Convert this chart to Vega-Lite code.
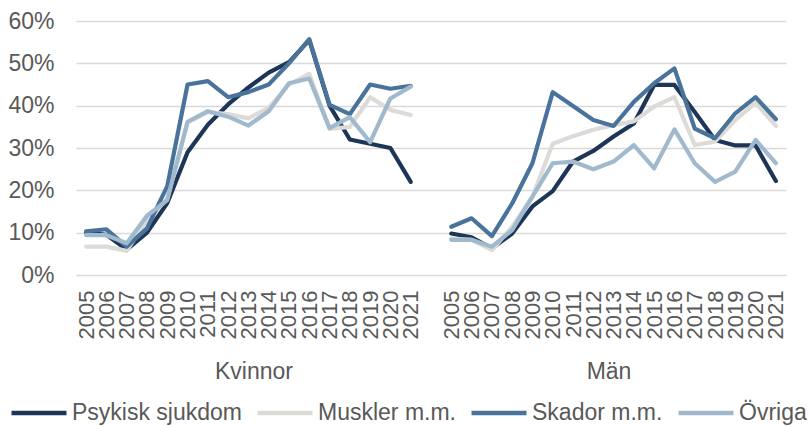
{
"$schema": "https://vega.github.io/schema/vega-lite/v6.json",
"padding": {"left": 7, "top": 10, "right": 2, "bottom": 2},
"spacing": 0,
"config": {
  "font": "Liberation Sans",
  "view": {"stroke": null},
  "axis": {"labelColor": "#595959", "titleColor": "#595959", "labelFont": "Liberation Sans", "titleFont": "Liberation Sans", "titleFontWeight": "normal", "gridColor": "#d9d9d9", "gridWidth": 1.5, "ticks": false, "domain": false},
  "legend": {"title": null, "symbolType": "stroke", "symbolSize": 3025, "symbolStrokeWidth": 4.5, "labelFontSize": 23, "labelColor": "#595959", "labelFont": "Liberation Sans", "labelOffset": 3, "labelLimit": 0, "columnPadding": 6, "padding": 0}
},
"data": {"values": [
{"g":"Kvinnor","year":"2005","s":"Psykisk sjukdom","v":10},
{"g":"Kvinnor","year":"2006","s":"Psykisk sjukdom","v":9.5},
{"g":"Kvinnor","year":"2007","s":"Psykisk sjukdom","v":6},
{"g":"Kvinnor","year":"2008","s":"Psykisk sjukdom","v":10},
{"g":"Kvinnor","year":"2009","s":"Psykisk sjukdom","v":17},
{"g":"Kvinnor","year":"2010","s":"Psykisk sjukdom","v":29},
{"g":"Kvinnor","year":"2011","s":"Psykisk sjukdom","v":35.5},
{"g":"Kvinnor","year":"2012","s":"Psykisk sjukdom","v":40.3},
{"g":"Kvinnor","year":"2013","s":"Psykisk sjukdom","v":44.3},
{"g":"Kvinnor","year":"2014","s":"Psykisk sjukdom","v":47.8},
{"g":"Kvinnor","year":"2015","s":"Psykisk sjukdom","v":50.3},
{"g":"Kvinnor","year":"2016","s":"Psykisk sjukdom","v":55.5},
{"g":"Kvinnor","year":"2017","s":"Psykisk sjukdom","v":40},
{"g":"Kvinnor","year":"2018","s":"Psykisk sjukdom","v":32},
{"g":"Kvinnor","year":"2019","s":"Psykisk sjukdom","v":31},
{"g":"Kvinnor","year":"2020","s":"Psykisk sjukdom","v":30},
{"g":"Kvinnor","year":"2021","s":"Psykisk sjukdom","v":22},
{"g":"Kvinnor","year":"2005","s":"Muskler m.m.","v":6.7},
{"g":"Kvinnor","year":"2006","s":"Muskler m.m.","v":6.7},
{"g":"Kvinnor","year":"2007","s":"Muskler m.m.","v":5.7},
{"g":"Kvinnor","year":"2008","s":"Muskler m.m.","v":13},
{"g":"Kvinnor","year":"2009","s":"Muskler m.m.","v":18},
{"g":"Kvinnor","year":"2010","s":"Muskler m.m.","v":36},
{"g":"Kvinnor","year":"2011","s":"Muskler m.m.","v":38.5},
{"g":"Kvinnor","year":"2012","s":"Muskler m.m.","v":38},
{"g":"Kvinnor","year":"2013","s":"Muskler m.m.","v":37},
{"g":"Kvinnor","year":"2014","s":"Muskler m.m.","v":39.5},
{"g":"Kvinnor","year":"2015","s":"Muskler m.m.","v":45},
{"g":"Kvinnor","year":"2016","s":"Muskler m.m.","v":47.5},
{"g":"Kvinnor","year":"2017","s":"Muskler m.m.","v":34.5},
{"g":"Kvinnor","year":"2018","s":"Muskler m.m.","v":35},
{"g":"Kvinnor","year":"2019","s":"Muskler m.m.","v":42},
{"g":"Kvinnor","year":"2020","s":"Muskler m.m.","v":39},
{"g":"Kvinnor","year":"2021","s":"Muskler m.m.","v":37.8},
{"g":"Kvinnor","year":"2005","s":"Skador m.m.","v":10.3},
{"g":"Kvinnor","year":"2006","s":"Skador m.m.","v":10.8},
{"g":"Kvinnor","year":"2007","s":"Skador m.m.","v":6.7},
{"g":"Kvinnor","year":"2008","s":"Skador m.m.","v":11},
{"g":"Kvinnor","year":"2009","s":"Skador m.m.","v":21},
{"g":"Kvinnor","year":"2010","s":"Skador m.m.","v":45},
{"g":"Kvinnor","year":"2011","s":"Skador m.m.","v":45.8},
{"g":"Kvinnor","year":"2012","s":"Skador m.m.","v":42},
{"g":"Kvinnor","year":"2013","s":"Skador m.m.","v":43.2},
{"g":"Kvinnor","year":"2014","s":"Skador m.m.","v":45},
{"g":"Kvinnor","year":"2015","s":"Skador m.m.","v":50},
{"g":"Kvinnor","year":"2016","s":"Skador m.m.","v":55.7},
{"g":"Kvinnor","year":"2017","s":"Skador m.m.","v":40.2},
{"g":"Kvinnor","year":"2018","s":"Skador m.m.","v":38},
{"g":"Kvinnor","year":"2019","s":"Skador m.m.","v":45},
{"g":"Kvinnor","year":"2020","s":"Skador m.m.","v":44},
{"g":"Kvinnor","year":"2021","s":"Skador m.m.","v":44.7},
{"g":"Kvinnor","year":"2005","s":"Övriga","v":9.4},
{"g":"Kvinnor","year":"2006","s":"Övriga","v":9.4},
{"g":"Kvinnor","year":"2007","s":"Övriga","v":7.5},
{"g":"Kvinnor","year":"2008","s":"Övriga","v":14},
{"g":"Kvinnor","year":"2009","s":"Övriga","v":17.7},
{"g":"Kvinnor","year":"2010","s":"Övriga","v":36.2},
{"g":"Kvinnor","year":"2011","s":"Övriga","v":38.7},
{"g":"Kvinnor","year":"2012","s":"Övriga","v":37.4},
{"g":"Kvinnor","year":"2013","s":"Övriga","v":35.3},
{"g":"Kvinnor","year":"2014","s":"Övriga","v":38.7},
{"g":"Kvinnor","year":"2015","s":"Övriga","v":45.3},
{"g":"Kvinnor","year":"2016","s":"Övriga","v":46.4},
{"g":"Kvinnor","year":"2017","s":"Övriga","v":34.7},
{"g":"Kvinnor","year":"2018","s":"Övriga","v":37.3},
{"g":"Kvinnor","year":"2019","s":"Övriga","v":31.4},
{"g":"Kvinnor","year":"2020","s":"Övriga","v":41.7},
{"g":"Kvinnor","year":"2021","s":"Övriga","v":44.5},
{"g":"Män","year":"2005","s":"Psykisk sjukdom","v":9.8},
{"g":"Män","year":"2006","s":"Psykisk sjukdom","v":8.9},
{"g":"Män","year":"2007","s":"Psykisk sjukdom","v":6.3},
{"g":"Män","year":"2008","s":"Psykisk sjukdom","v":9.8},
{"g":"Män","year":"2009","s":"Psykisk sjukdom","v":16.2},
{"g":"Män","year":"2010","s":"Psykisk sjukdom","v":19.8},
{"g":"Män","year":"2011","s":"Psykisk sjukdom","v":26.8},
{"g":"Män","year":"2012","s":"Psykisk sjukdom","v":29.3},
{"g":"Män","year":"2013","s":"Psykisk sjukdom","v":32.7},
{"g":"Män","year":"2014","s":"Psykisk sjukdom","v":35.8},
{"g":"Män","year":"2015","s":"Psykisk sjukdom","v":44.9},
{"g":"Män","year":"2016","s":"Psykisk sjukdom","v":44.9},
{"g":"Män","year":"2017","s":"Psykisk sjukdom","v":38.5},
{"g":"Män","year":"2018","s":"Psykisk sjukdom","v":31.9},
{"g":"Män","year":"2019","s":"Psykisk sjukdom","v":30.6},
{"g":"Män","year":"2020","s":"Psykisk sjukdom","v":30.6},
{"g":"Män","year":"2021","s":"Psykisk sjukdom","v":22.2},
{"g":"Män","year":"2005","s":"Muskler m.m.","v":8.6},
{"g":"Män","year":"2006","s":"Muskler m.m.","v":8.3},
{"g":"Män","year":"2007","s":"Muskler m.m.","v":5.9},
{"g":"Män","year":"2008","s":"Muskler m.m.","v":11.4},
{"g":"Män","year":"2009","s":"Muskler m.m.","v":18.5},
{"g":"Män","year":"2010","s":"Muskler m.m.","v":31},
{"g":"Män","year":"2011","s":"Muskler m.m.","v":32.8},
{"g":"Män","year":"2012","s":"Muskler m.m.","v":34.3},
{"g":"Män","year":"2013","s":"Muskler m.m.","v":35.4},
{"g":"Män","year":"2014","s":"Muskler m.m.","v":36.3},
{"g":"Män","year":"2015","s":"Muskler m.m.","v":39.8},
{"g":"Män","year":"2016","s":"Muskler m.m.","v":42},
{"g":"Män","year":"2017","s":"Muskler m.m.","v":30.7},
{"g":"Män","year":"2018","s":"Muskler m.m.","v":31.5},
{"g":"Män","year":"2019","s":"Muskler m.m.","v":36.6},
{"g":"Män","year":"2020","s":"Muskler m.m.","v":40.7},
{"g":"Män","year":"2021","s":"Muskler m.m.","v":35.2},
{"g":"Män","year":"2005","s":"Skador m.m.","v":11.4},
{"g":"Män","year":"2006","s":"Skador m.m.","v":13.4},
{"g":"Män","year":"2007","s":"Skador m.m.","v":9.2},
{"g":"Män","year":"2008","s":"Skador m.m.","v":16.9},
{"g":"Män","year":"2009","s":"Skador m.m.","v":26.4},
{"g":"Män","year":"2010","s":"Skador m.m.","v":43.2},
{"g":"Män","year":"2011","s":"Skador m.m.","v":39.9},
{"g":"Män","year":"2012","s":"Skador m.m.","v":36.6},
{"g":"Män","year":"2013","s":"Skador m.m.","v":35.2},
{"g":"Män","year":"2014","s":"Skador m.m.","v":40.9},
{"g":"Män","year":"2015","s":"Skador m.m.","v":45.3},
{"g":"Män","year":"2016","s":"Skador m.m.","v":48.8},
{"g":"Män","year":"2017","s":"Skador m.m.","v":34.6},
{"g":"Män","year":"2018","s":"Skador m.m.","v":32.3},
{"g":"Män","year":"2019","s":"Skador m.m.","v":38.2},
{"g":"Män","year":"2020","s":"Skador m.m.","v":42},
{"g":"Män","year":"2021","s":"Skador m.m.","v":36.8},
{"g":"Män","year":"2005","s":"Övriga","v":8.3},
{"g":"Män","year":"2006","s":"Övriga","v":8.3},
{"g":"Män","year":"2007","s":"Övriga","v":6.7},
{"g":"Män","year":"2008","s":"Övriga","v":10.6},
{"g":"Män","year":"2009","s":"Övriga","v":18.5},
{"g":"Män","year":"2010","s":"Övriga","v":26.4},
{"g":"Män","year":"2011","s":"Övriga","v":26.8},
{"g":"Män","year":"2012","s":"Övriga","v":25},
{"g":"Män","year":"2013","s":"Övriga","v":26.8},
{"g":"Män","year":"2014","s":"Övriga","v":30.7},
{"g":"Män","year":"2015","s":"Övriga","v":25.2},
{"g":"Män","year":"2016","s":"Övriga","v":34.4},
{"g":"Män","year":"2017","s":"Övriga","v":26.4},
{"g":"Män","year":"2018","s":"Övriga","v":22},
{"g":"Män","year":"2019","s":"Övriga","v":24.4},
{"g":"Män","year":"2020","s":"Övriga","v":31.9},
{"g":"Män","year":"2021","s":"Övriga","v":26.4}
]},
"hconcat": [
 {
  "width": 355, "height": 254,
  "transform": [{"filter": "datum.g == 'Kvinnor'"}],
  "mark": {"type": "line", "strokeWidth": 4.2, "strokeJoin": "round", "strokeCap": "round"},
  "encoding": {
    "x": {"field": "year", "type": "ordinal", "scale": {"type": "point", "padding": 0.75, "align": 0.333},
          "axis": {"title": "Kvinnor", "labelAngle": -90, "labelFontSize": 22, "labelPadding": 15, "titleFontSize": 23, "titlePadding": 22, "grid": false}},
    "y": {"field": "v", "type": "quantitative", "scale": {"domain": [0, 60], "nice": false},
          "axis": {"title": null, "values": [0,10,20,30,40,50,60], "labelExpr": "datum.value + '%'", "labelFontSize": 23, "labelPadding": 22, "grid": true}},
    "color": {"field": "s", "type": "nominal", "sort": ["Psykisk sjukdom", "Muskler m.m.", "Skador m.m.", "Övriga"],
              "scale": {"domain": ["Psykisk sjukdom", "Muskler m.m.", "Skador m.m.", "Övriga"], "range": ["#1d3658", "#dcdbd7", "#4a739b", "#a1b9cd"]},
              "legend": {"orient": "none", "direction": "horizontal", "columns": 4, "legendX": -67, "legendY": 362}}
  }
 },
 {
  "width": 355, "height": 254,
  "transform": [{"filter": "datum.g == 'Män'"}],
  "mark": {"type": "line", "strokeWidth": 4.2, "strokeJoin": "round", "strokeCap": "round"},
  "encoding": {
    "x": {"field": "year", "type": "ordinal", "scale": {"type": "point", "padding": 0.75, "align": 0.667},
          "axis": {"title": "Män", "labelAngle": -90, "labelFontSize": 22, "labelPadding": 15, "titleFontSize": 23, "titlePadding": 22, "grid": false}},
    "y": {"field": "v", "type": "quantitative", "scale": {"domain": [0, 60], "nice": false},
          "axis": {"title": null, "values": [0,10,20,30,40,50,60], "labels": false, "grid": true}},
    "color": {"field": "s", "type": "nominal", "sort": ["Psykisk sjukdom", "Muskler m.m.", "Skador m.m.", "Övriga"],
              "scale": {"domain": ["Psykisk sjukdom", "Muskler m.m.", "Skador m.m.", "Övriga"], "range": ["#1d3658", "#dcdbd7", "#4a739b", "#a1b9cd"]},
              "legend": {"orient": "none", "direction": "horizontal", "columns": 4, "legendX": -67, "legendY": 362}}
  }
 }
]
}
